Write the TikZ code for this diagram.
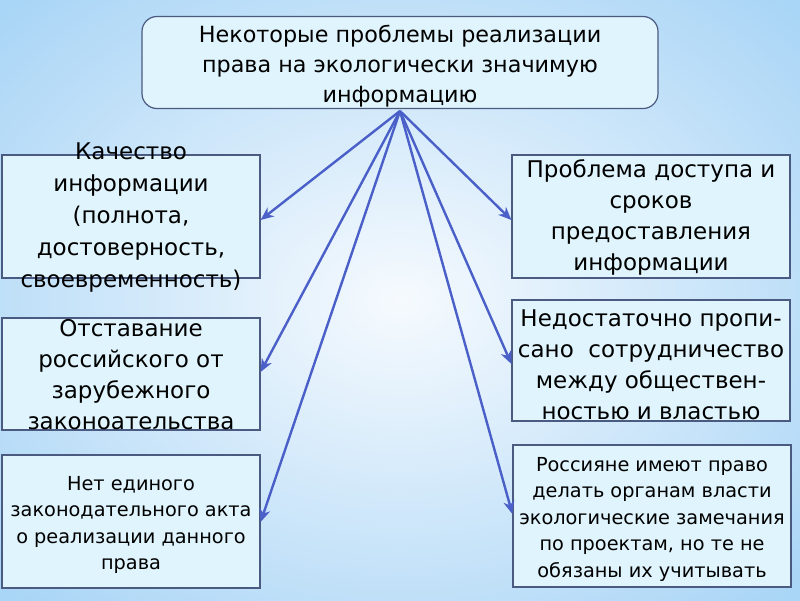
\documentclass[tikz,border=0pt]{standalone}
\usepackage{fontspec}
\setmainfont{DejaVu Sans}
\usetikzlibrary{arrows.meta}
\definecolor{boxfill}{HTML}{DFF4FC}
\definecolor{boxline}{HTML}{4B5A80}
\definecolor{arrowc}{HTML}{4A60C8}
\definecolor{bgouter}{HTML}{A9D5F6}
\definecolor{bginner}{HTML}{F6FAFE}
\tikzset{
  box/.style={draw=boxline, fill=boxfill, line width=1.2pt, inner sep=0pt},
  bigtxt/.style={align=center, inner sep=0pt, font=\fontsize{23}{31}\selectfont, text=black},
  smalltxt/.style={align=center, inner sep=0pt, font=\fontsize{19.3}{26.5}\selectfont, text=black},
  conn/.style={draw=arrowc, line width=2.4pt, -{Stealth[length=13pt,width=11pt,inset=4pt]}}
}
\begin{document}
\begin{tikzpicture}[x=1pt,y=-1pt]
\useasboundingbox (0,0) rectangle (800,600);
\shade[inner color=bginner, outer color=bgouter] (-150,-120) rectangle (950,720);
% top
\node[box, rounded corners=15pt, minimum width=516pt, minimum height=92pt] (top) at (400,62.5) {};
\node[bigtxt, font=\fontsize{22.3}{30}\selectfont] (toptxt) at (400,66) {Некоторые проблемы реализации\\права на экологически значимую\\информацию};
% left boxes
\node[box, minimum width=258pt, minimum height=123pt] (l1) at (131,216.5) {};
\node[bigtxt, font=\fontsize{23}{32}\selectfont] (l1t) at (131,218) {Качество\\информации\\(полнота,\\достоверность,\\своевременность)};
\node[box, minimum width=258pt, minimum height=112pt] (l2) at (131,374) {};
\node[bigtxt] (l2t) at (131,375) {Отставание\\российского от\\зарубежного\\законоательства};
\node[box, minimum width=258pt, minimum height=133pt] (l3) at (131,521.5) {};
\node[smalltxt] (l3t) at (131,525) {Нет единого\\законодательного акта\\о реализации данного\\права};
% right boxes
\node[box, minimum width=278pt, minimum height=123pt] (r1) at (651,216.5) {};
\node[bigtxt] (r1t) at (651,217) {Проблема доступа и\\сроков\\предоставления\\информации};
\node[box, minimum width=278pt, minimum height=121pt] (r2) at (651,360.5) {};
\node[bigtxt] (r2t) at (651,365) {Недостаточно пропи-\\сано\ \ сотрудничество\\между обществен-\\ностью и властью};
\node[box, minimum width=278pt, minimum height=142pt] (r3) at (652,516) {};
\node[smalltxt] (r3t) at (652,519) {Россияне имеют право\\делать органам власти\\экологические замечания\\по проектам, но те не\\обязаны их учитывать};
% connectors
\coordinate (o) at (400,111);
\draw[conn] (o) -- (l1.east |- 0,220);
\draw[conn] (o) -- (r1.west |- 0,220);
\draw[conn] (o) -- (l2.east |- 0,372);
\draw[conn] (o) -- (r2.west |- 0,364);
\draw[conn] (o) -- (l3.east |- 0,522);
\draw[conn] (o) -- (r3.west |- 0,514);
\end{tikzpicture}
\end{document}
